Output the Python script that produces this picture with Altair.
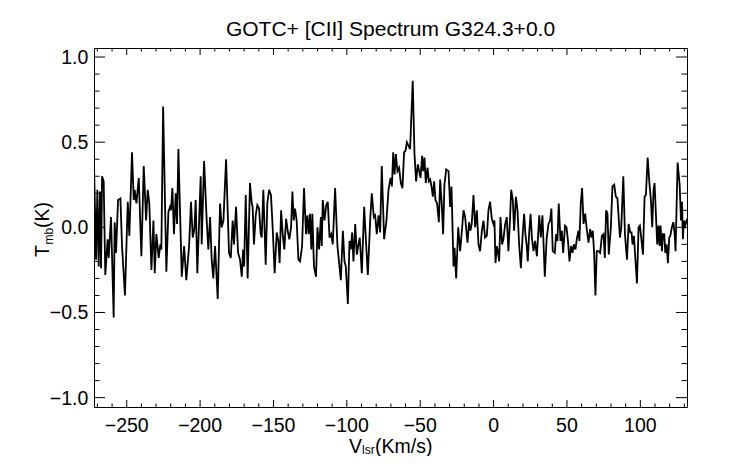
import altair as alt
import pandas as pd

# ---- spectrum ----
vel = [-272.3,-270.9,-270.0,-269.1,-268.2,-267.5,-266.8,-265.7,-264.6,-263.0,-262.3,-260.7,-258.9,-258.2,-257.3,-255.9,-254.3,-253.2,-251.2,-249.3,-248.2,-246.4,-245.2,-244.6,-243.4,-241.8,-240.0,-238.4,-236.8,-235.7,-234.6,-233.2,-231.8,-230.9,-229.8,-228.2,-227.1,-226.4,-225.2,-223.0,
       -221.6,-220.5,-219.8,-218.9,-217.8,-216.6,-215.7,-214.8,-212.5,-210.9,-209.4,-207.5,-206.2,-205.0,-203.9,-203.0,-201.9,-199.6,-198.9,-197.3,-195.5,-194.4,-193.2,-192.1,-191.0,-189.8,-188.0,-186.4,-185.3,-184.1,-182.3,-180.3,-179.1,-177.8,-176.9,-175.5,-174.1,-172.8,-171.6,-170.7,-170.0,
       -168.9,-167.6,-166.0,-164.8,-164.2,-163.3,-162.1,-161.0,-159.8,-158.7,-158.0,-156.9,-155.3,-154.2,-153.0,-151.7,-150.5,-149.2,-147.8,-146.7,-145.8,-144.8,-143.7,-142.6,-141.4,-140.3,-139.2,-138.0,-137.1,-136.2,-135.3,-134.2,-133.0,-131.9,-130.5,-129.2,-127.8,-126.9,-126.0,-125.1,-124.2,-123.5,-122.4,-121.0,
       -120.0,-118.9,-117.7,-117.1,-116.4,-115.2,-114.1,-113.0,-111.8,-110.7,-109.6,-108.0,-106.4,-104.1,-102.7,-101.6,-100.7,-99.3,-98.2,-97.3,-96.4,-95.5,-94.3,-93.2,-92.3,-91.2,-89.8,-88.2,-87.1,-85.7,-84.1,-83.0,-81.6,-80.7,-79.6,-78.4,-77.3,-76.2,-74.6,-73.0,-71.6,-70.2,-69.3,-68.4,
       -67.5,-66.6,-65.5,-64.4,-63.2,-62.1,-61.0,-60.0,-59.1,-58.0,-56.9,-55.1,-53.9,-52.8,-51.6,-50.7,-49.8,-48.7,-48.0,-47.1,-46.2,-45.0,-44.1,-43.2,-42.3,-41.4,-40.5,-39.6,-38.5,-37.3,-36.4,-35.3,-34.4,-33.5,-32.3,-30.7,-29.6,-28.7,-27.3,-26.6,-25.5,-24.1,-22.8,-21.6,-20.5,-19.4,
       -17.8,-16.7,-15.8,-14.9,-13.7,-12.6,-11.4,-10.3,-9.2,-8.0,-6.9,-5.8,-4.6,-3.5,-2.4,-1.2,-0.1,0.6,1.3,2.2,2.9,3.8,4.7,5.8,6.7,7.9,9.0,10.1,11.1,12.0,13.1,14.0,15.2,16.3,17.4,18.6,19.7,20.8,21.7,22.6,23.3,24.2,25.2,26.1,27.2,28.3,29.5,30.4,31.1,32.2,33.3,
       34.9,36.2,37.4,38.5,39.4,40.3,41.7,42.6,43.5,44.4,45.6,46.5,47.4,48.7,49.7,50.8,51.7,52.8,53.8,54.7,55.8,56.7,57.8,58.5,59.4,60.3,61.3,62.4,63.5,64.7,65.8,66.7,67.6,68.5,69.4,70.3,71.5,72.6,73.8,74.9,75.8,76.7,77.6,78.5,79.9,81.0,82.2,83.3,84.4,
       86.1,87.0,88.4,89.5,90.9,92.0,93.1,94.0,94.7,95.6,96.5,97.7,98.8,99.7,100.6,101.8,102.9,103.8,105.0,106.1,107.2,108.1,109.0,109.7,110.6,111.5,112.4,113.1,113.8,114.7,115.4,116.3,117.0,117.9,118.8,119.7,120.4,121.5,122.5,123.4,124.0,125.4,126.8,127.7,128.4,129.0,129.7,130.6,131.8]

tmb = [0.37,-0.19,0.22,-0.23,0.21,-0.24,0.30,0.27,-0.28,-0.07,-0.18,0.06,-0.53,0.03,-0.15,0.16,0.17,-0.11,-0.40,0.15,-0.05,0.44,0.16,0.22,0.14,0.29,-0.17,0.36,0.04,0.22,0.14,-0.25,0.04,-0.27,-0.04,-0.18,-0.10,-0.13,0.71,-0.26,
       0.09,0.12,0.10,0.23,-0.04,0.20,0.02,0.46,-0.29,-0.11,-0.31,-0.11,0.15,-0.06,-0.01,0.16,-0.27,0.30,-0.10,0.39,0.04,-0.13,0.06,-0.19,-0.30,-0.11,-0.42,0.14,0.0,0.04,0.40,-0.15,-0.18,0.04,-0.10,0.12,-0.15,-0.19,-0.29,-0.13,-0.23,
       0.19,-0.30,0.26,0.14,0.12,-0.10,0.07,0.13,0.11,-0.04,-0.06,0.22,-0.22,0.14,0.22,0.19,-0.01,-0.27,-0.03,-0.08,-0.21,0.10,-0.04,-0.13,0.05,-0.02,-0.07,0.0,0.21,0.04,0.11,0.04,-0.19,-0.20,-0.11,0.23,-0.04,0.07,-0.04,0.08,-0.13,0.08,-0.23,-0.29,
       0.0,-0.13,0.06,-0.11,0.16,0.04,0.13,0.15,-0.06,-0.04,-0.10,0.23,-0.11,-0.31,-0.02,-0.20,-0.23,-0.45,-0.08,-0.13,-0.03,-0.20,0.02,-0.16,-0.11,-0.06,-0.27,0.12,-0.06,-0.28,0.04,0.20,0.06,0.07,-0.04,0.07,-0.03,0.36,-0.07,0.04,0.22,0.29,0.24,0.44,
       0.31,0.43,0.33,0.35,0.26,0.23,0.44,0.45,0.50,0.48,0.46,0.86,0.43,0.27,0.37,0.33,0.29,0.42,0.33,0.41,0.26,0.35,0.27,0.28,0.24,0.18,0.27,0.16,0.14,0.03,0.28,0.13,-0.04,0.25,0.34,0.33,0.12,0.24,-0.23,-0.12,-0.30,0.0,-0.14,-0.02,0.10,0.06,
       -0.09,0.03,-0.02,0.02,0.19,0.0,0.10,-0.10,-0.14,-0.02,0.04,-0.06,-0.05,0.10,0.15,0.05,0.02,0.04,-0.21,-0.11,-0.14,-0.20,0.06,-0.10,-0.07,0.02,0.06,-0.14,0.03,0.22,0.16,-0.02,0.18,0.10,-0.10,-0.24,-0.06,0.08,-0.04,-0.11,-0.20,-0.04,0.08,-0.06,-0.14,-0.08,-0.17,-0.04,0.07,-0.06,0.07,
       -0.29,-0.06,0.02,0.04,0.11,-0.14,-0.15,-0.04,-0.08,0.14,-0.08,-0.02,-0.15,0.01,0.0,-0.09,-0.20,-0.11,-0.15,-0.10,-0.13,-0.07,-0.02,-0.08,0.14,0.23,0.02,0.08,-0.01,-0.09,-0.01,-0.06,-0.02,-0.15,-0.40,-0.14,-0.14,-0.15,-0.05,-0.04,-0.18,0.10,0.08,-0.16,0.0,0.24,0.25,0.18,0.17,
       -0.06,0.0,0.30,-0.04,-0.19,0.02,-0.03,-0.03,-0.10,-0.05,-0.17,-0.33,0.0,0.01,-0.06,-0.16,0.18,0.19,0.41,0.27,0.16,0.0,0.22,0.26,0.08,-0.10,0.01,-0.11,0.01,-0.14,-0.04,-0.04,-0.15,-0.10,-0.21,-0.06,-0.05,0.0,0.03,-0.04,-0.14,0.38,0.25,0.04,0.15,-0.07,0.04,0.01,0.05]

# ---- axes / ticks ----
x_major = [-250, -200, -150, -100, -50, 0, 50, 100]
x_labels = ["\u2212250", "\u2212200", "\u2212150", "\u2212100", "\u221250", "0", "50", "100"]
x_minor = [-270, -260, -240, -230, -220, -210, -190, -180, -170, -160, -140, -130, -120, -110,
           -90, -80, -70, -60, -40, -30, -20, -10, 10, 20, 30, 40, 60, 70, 80, 90, 110, 120, 130]
y_major = [-1.0, -0.5, 0.0, 0.5, 1.0]
y_labels = ["\u22121.0", "\u22120.5", "0.0", "0.5", "1.0"]
y_minor = [-0.9, -0.8, -0.7, -0.6, -0.4, -0.3, -0.2, -0.1, 0.1, 0.2, 0.3, 0.4, 0.6, 0.7, 0.8, 0.9]

title_text = "GOTC+ [CII] Spectrum G324.3+0.0"
x_title_parts = ["V", "lsr", "(Km/s)"]
y_title_parts = ["T", "mb", "(K)"]

W, H = 593, 359
FONT = "Liberation Sans"
LBL = 19.5
xs = alt.Scale(domain=[-272.3, 131.8], nice=False, zero=False)
ys = alt.Scale(domain=[-1.055, 1.053], nice=False, zero=False)

df = pd.DataFrame({"v": vel, "t": tmb})

line = alt.Chart(df).mark_line(color="black", strokeWidth=1.8, clip=True).encode(
    x=alt.X("v:Q", scale=xs, axis=None),
    y=alt.Y("t:Q", scale=ys, axis=None),
)


def xticks(vals, length, top):
    d = pd.DataFrame({"v": vals})
    if top:
        y1, y2 = 0, length
    else:
        y1, y2 = H, H - length
    return alt.Chart(d).mark_rule(color="black", strokeWidth=1).encode(
        x=alt.X("v:Q", scale=xs, axis=None), y=alt.value(y1), y2=alt.value(y2))


def yticks(vals, length, right):
    d = pd.DataFrame({"t": vals})
    if right:
        x1, x2 = W - length, W
    else:
        x1, x2 = 0, length
    return alt.Chart(d).mark_rule(color="black", strokeWidth=1).encode(
        y=alt.Y("t:Q", scale=ys, axis=None), x=alt.value(x1), x2=alt.value(x2))


xlab = alt.Chart(pd.DataFrame({"v": x_major, "s": x_labels})).mark_text(
    align="center", baseline="alphabetic", fontSize=LBL, font=FONT, color="black"
).encode(x=alt.X("v:Q", scale=xs, axis=None), y=alt.value(384), text="s:N")

ylab = alt.Chart(pd.DataFrame({"t": y_major, "s": y_labels})).mark_text(
    align="right", baseline="alphabetic", fontSize=LBL, font=FONT, color="black", dy=7
).encode(y=alt.Y("t:Q", scale=ys, axis=None), x=alt.value(-5.7), text="s:N")


def txt(s, x, y, size, angle=0, align="left"):
    d = pd.DataFrame({"s": [s]})
    kw = dict(align=align, baseline="alphabetic", fontSize=size, font=FONT, color="black")
    if angle:
        kw["angle"] = angle
    return alt.Chart(d).mark_text(**kw).encode(x=alt.value(x), y=alt.value(y), text="s:N")


layers = [
    line,
    xticks(x_major, 7, False), xticks(x_minor, 3.5, False),
    xticks(x_major, 7, True), xticks(x_minor, 3.5, True),
    yticks(y_major, 11, False), yticks(y_minor, 5.5, False),
    yticks(y_major, 11, True), yticks(y_minor, 5.5, True),
    xlab, ylab,
    txt(title_text, W / 2, -12, 21, align="center"),
    txt(x_title_parts[0], 255, 405, LBL),
    txt(x_title_parts[1], 268, 405.5, 12),
    txt(x_title_parts[2], 281, 405, LBL),
    txt(y_title_parts[0], -45, 209, LBL, 270),
    txt(y_title_parts[1], -41, 196.6, 12, 270),
    txt(y_title_parts[2], -45, 180, LBL, 270),
]

chart = alt.layer(*layers).properties(
    width=W, height=H,
    autosize=alt.AutoSizeParams(type="none"),
    padding={"left": 86, "top": 40, "right": 47, "bottom": 49},
).configure_view(stroke="black", strokeWidth=1)

chart.save("out.html", embed_options={"renderer": "svg", "actions": False})
